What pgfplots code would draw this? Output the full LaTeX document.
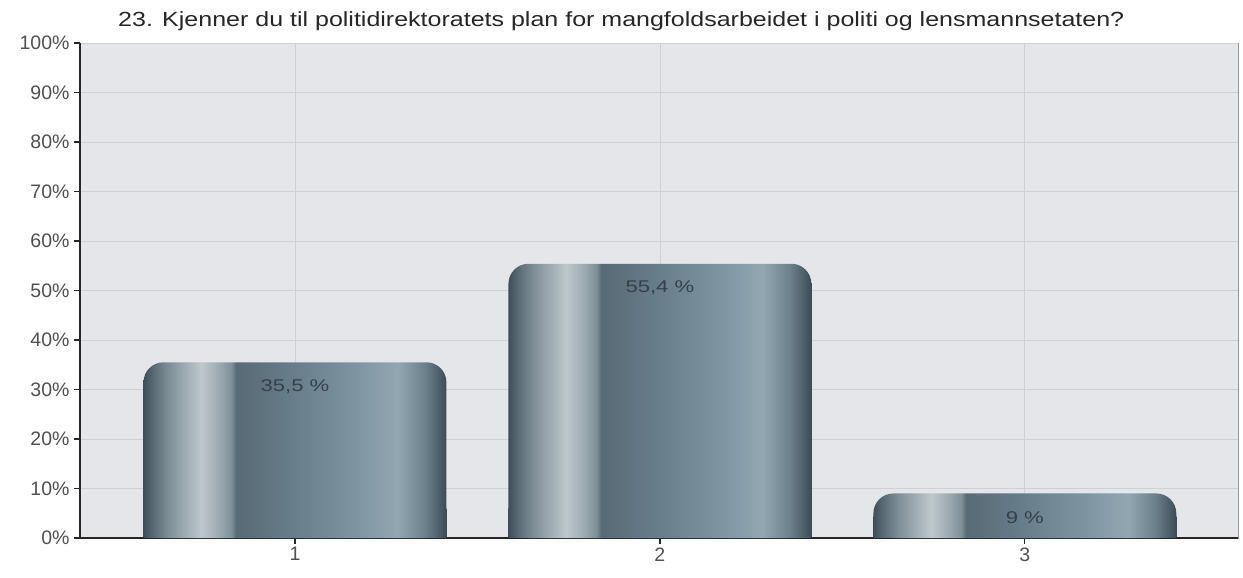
\documentclass[border=0pt]{standalone}
\usepackage{fontspec}
\setmainfont{Liberation Sans}
\usepackage{graphicx}
\usepackage{pgfplots}
\pgfplotsset{compat=1.18}

\definecolor{plotbg}{HTML}{E4E6E9}
\definecolor{gridc}{HTML}{CDD0D4}
\definecolor{labc}{HTML}{34414B}
\definecolor{tickc}{HTML}{505050}

% horizontal metallic look of the bars (the bar covers 25bp..75bp)
\pgfdeclarehorizontalshading{barshade}{100bp}{%
  color(0bp)=(rgb,255:red,62;green,78;blue,88);
  color(25bp)=(rgb,255:red,62;green,78;blue,88);
  color(26.5bp)=(rgb,255:red,88;green,105;blue,115);
  color(29bp)=(rgb,255:red,125;green,141;blue,150);
  color(32bp)=(rgb,255:red,160;green,173;blue,180);
  color(34.5bp)=(rgb,255:red,190;green,200;blue,205);
  color(37bp)=(rgb,255:red,162;green,175;blue,182);
  color(39.5bp)=(rgb,255:red,128;green,144;blue,153);
  color(40.3bp)=(rgb,255:red,88;green,106;blue,117);
  color(50bp)=(rgb,255:red,104;green,126;blue,139);
  color(60bp)=(rgb,255:red,126;green,148;blue,160);
  color(67bp)=(rgb,255:red,146;green,167;blue,178);
  color(71.5bp)=(rgb,255:red,108;green,128;blue,139);
  color(75bp)=(rgb,255:red,60;green,76;blue,86);
  color(100bp)=(rgb,255:red,60;green,76;blue,86)}

\pgfplotsset{
  layers/barsmid/.define layer set={axis background,axis grid,main,axis ticks,axis lines,axis tick labels,axis descriptions,axis foreground}{},
  base/.style={ybar, bar shift=0pt, draw=none, shading=barshade, forget plot},
  answer/.style={ybar, bar shift=0pt, draw=none, shading=barshade,
    rounded corners=20bp,
    nodes near coords={\scalebox{1.3}[1]{\pgfmathprintnumber[use comma,fixed,precision=1]{\pgfplotspointmeta}~\%}},
    every node near coord/.append style={anchor=center, yshift=-24bp,
      font=\fontsize{17bp}{20bp}\selectfont, text=labc, sharp corners}},
}

\begin{document}
\begin{tikzpicture}
\begin{axis}[
    set layers=barsmid,
    at={(0,0)}, anchor=south west,
    width=1158bp, height=495bp,
    scale only axis,
    xmin=0.411, xmax=3.584,
    ymin=0, ymax=100,
    xtick={1,2,3},
    xticklabels={1,2,3},
    ytick distance=10,
    yticklabel={\pgfmathprintnumber{\tick}\%},
    /pgf/number format/assume math mode=true,
    axis x line*=bottom, axis y line*=left,
    axis line style={black!85, line width=1.3bp, -},
    axis background/.style={fill=plotbg, draw=gray!80, line width=0.8bp},
    grid=major,
    major grid style={gridc, line width=0.8bp},
    tick align=outside,
    major tick length=6bp,
    tick style={black!85, line width=1.2bp},
    ticklabel style={font=\fontsize{19.5bp}{22bp}\selectfont, text=tickc},
    yticklabel style={xshift=-1bp},
    bar width=0.83,
    clip=false,
]
% square bases under the rounded bars
\addplot[base] coordinates {(1,6)};
\addplot[base] coordinates {(2,6)};
\addplot[base] coordinates {(3,4.3)};
% the answers
\addplot[answer] coordinates {(1,35.5)};
\addplot[answer] coordinates {(2,55.4)};
\addplot[answer] coordinates {(3,9)};
\end{axis}
\node[anchor=base west, font=\fontsize{20.5bp}{24bp}\selectfont, text=black!85, inner sep=0pt]
  at (38bp,511bp) {\scalebox{1.22}[1]{23. Kjenner du til politidirektoratets plan for mangfoldsarbeidet i politi og lensmannsetaten?}};
\pgfresetboundingbox
\useasboundingbox (-80bp,-40bp) rectangle (1163bp,538bp);
\end{tikzpicture}
\end{document}
